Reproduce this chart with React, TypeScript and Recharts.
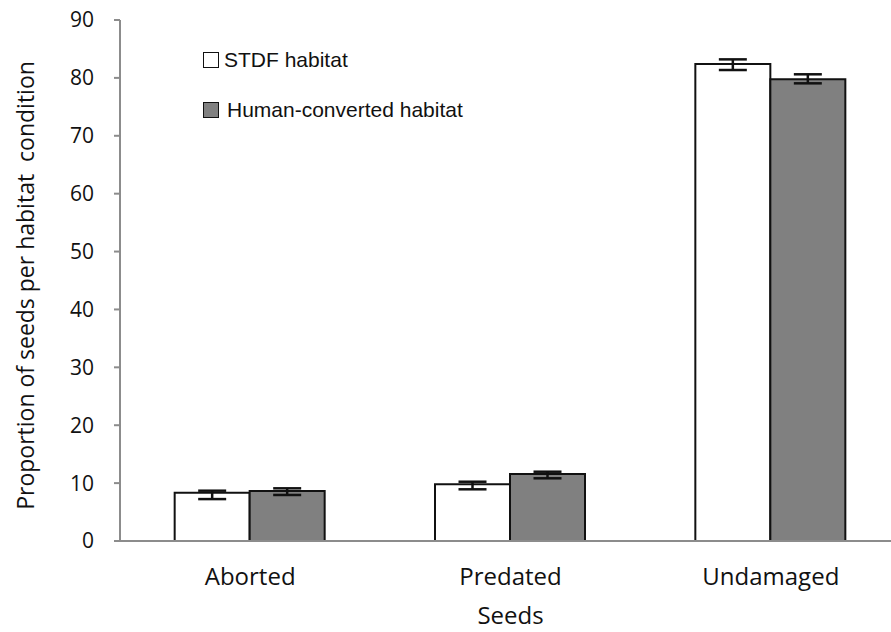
import React from 'react';
import { BarChart, Bar, XAxis, YAxis, ErrorBar, Label } from 'recharts';

const categories = ['Aborted', 'Predated', 'Undamaged'];
const stdfValues = [8.34, 9.79, 82.4];
const stdfErrors: [number, number][] = [[1.1, 0.35], [0.86, 0.45], [1.04, 0.8]];
const humanValues = [8.64, 11.57, 79.75];
const humanErrors: [number, number][] = [[0.69, 0.46], [0.74, 0.4], [0.69, 0.87]];
const yTicks = [0, 10, 20, 30, 40, 50, 60, 70, 80, 90];
const seriesNames = ['STDF habitat', 'Human-converted habitat'];
const seriesFills = ['#ffffff', '#808080'];

const data = categories.map((c, i) => ({
  name: c,
  stdf: stdfValues[i],
  stdfErr: stdfErrors[i],
  human: humanValues[i],
  humanErr: humanErrors[i],
}));

const axisFont = '"Open Sans", "DejaVu Sans", sans-serif';
const legendFont = '"Liberation Sans", Arial, sans-serif';

const YLabelContent = (props: any) => {
  const vb = props.viewBox || {};
  const cx = 25;
  const cy = (vb.y ?? 20) + (vb.height ?? 521) / 2 + 5;
  return (
    <text
      x={cx}
      y={cy}
      transform={`rotate(-90, ${cx}, ${cy})`}
      textAnchor="middle"
      dominantBaseline="central"
      fontFamily={axisFont}
      fontSize={23}
      fill="#111"
      style={{ whiteSpace: 'pre' }}
    >
      {'Proportion of seeds per habitat  condition'}
    </text>
  );
};

const XLabelContent = (props: any) => {
  const vb = props.viewBox || {};
  const cx = (vb.x ?? 120) + (vb.width ?? 781) / 2;
  const by = (vb.y ?? 541) + (vb.height ?? 91) - 8;
  return (
    <text x={cx} y={by} textAnchor="middle" fontFamily={axisFont} fontSize={24} fill="#111">
      Seeds
    </text>
  );
};

const LegendBlock = () => (
  <div style={{ position: 'absolute', top: 51, left: 203, fontFamily: legendFont, fontSize: 21, color: '#111' }}>
    {seriesNames.map((n, i) => (
      <div key={n} style={{ display: 'flex', alignItems: 'center', height: 18, marginBottom: i === 0 ? 32 : 0 }}>
        <div
          style={{
            width: 14,
            height: 14,
            border: '1.5px solid #111',
            background: seriesFills[i],
            marginRight: i === 0 ? 5 : 8,
          }}
        />
        <span style={{ lineHeight: '18px' }}>{n}</span>
      </div>
    ))}
  </div>
);

export default function App() {
  return (
    <div style={{ position: 'absolute', left: 0, top: 0, width: 891, height: 632, overflow: 'hidden', background: '#fff' }}>
      <BarChart
        width={901}
        height={632}
        data={data}
        margin={{ top: 20, right: 0, bottom: 0, left: 0 }}
        barCategoryGap="21%"
        barGap={0}
      >
        <XAxis
          dataKey="name"
          height={91}
          stroke="#8c8c8c"
          strokeWidth={2}
          tickLine={false}
          tickSize={0}
          tickMargin={27}
          tick={{ fill: '#111', fontSize: 24, fontFamily: axisFont }}
        >
          <Label content={XLabelContent} />
        </XAxis>
        <YAxis
          width={120}
          domain={[0, 90]}
          ticks={yTicks}
          interval={0}
          stroke="#8c8c8c"
          strokeWidth={2}
          tickSize={6}
          tickMargin={20}
          tick={{ fill: '#111', fontSize: 21, fontFamily: axisFont }}
        >
          <Label content={YLabelContent} />
        </YAxis>
        <Bar dataKey="stdf" name={seriesNames[0]} fill={seriesFills[0]} stroke="#111" strokeWidth={2} isAnimationActive={false}>
          <ErrorBar dataKey="stdfErr" width={14} stroke="#111" strokeWidth={2.5} direction="y" isAnimationActive={false} />
        </Bar>
        <Bar dataKey="human" name={seriesNames[1]} fill={seriesFills[1]} stroke="#111" strokeWidth={2} isAnimationActive={false}>
          <ErrorBar dataKey="humanErr" width={14} stroke="#111" strokeWidth={2.5} direction="y" isAnimationActive={false} />
        </Bar>
      </BarChart>
      <LegendBlock />
    </div>
  );
}
